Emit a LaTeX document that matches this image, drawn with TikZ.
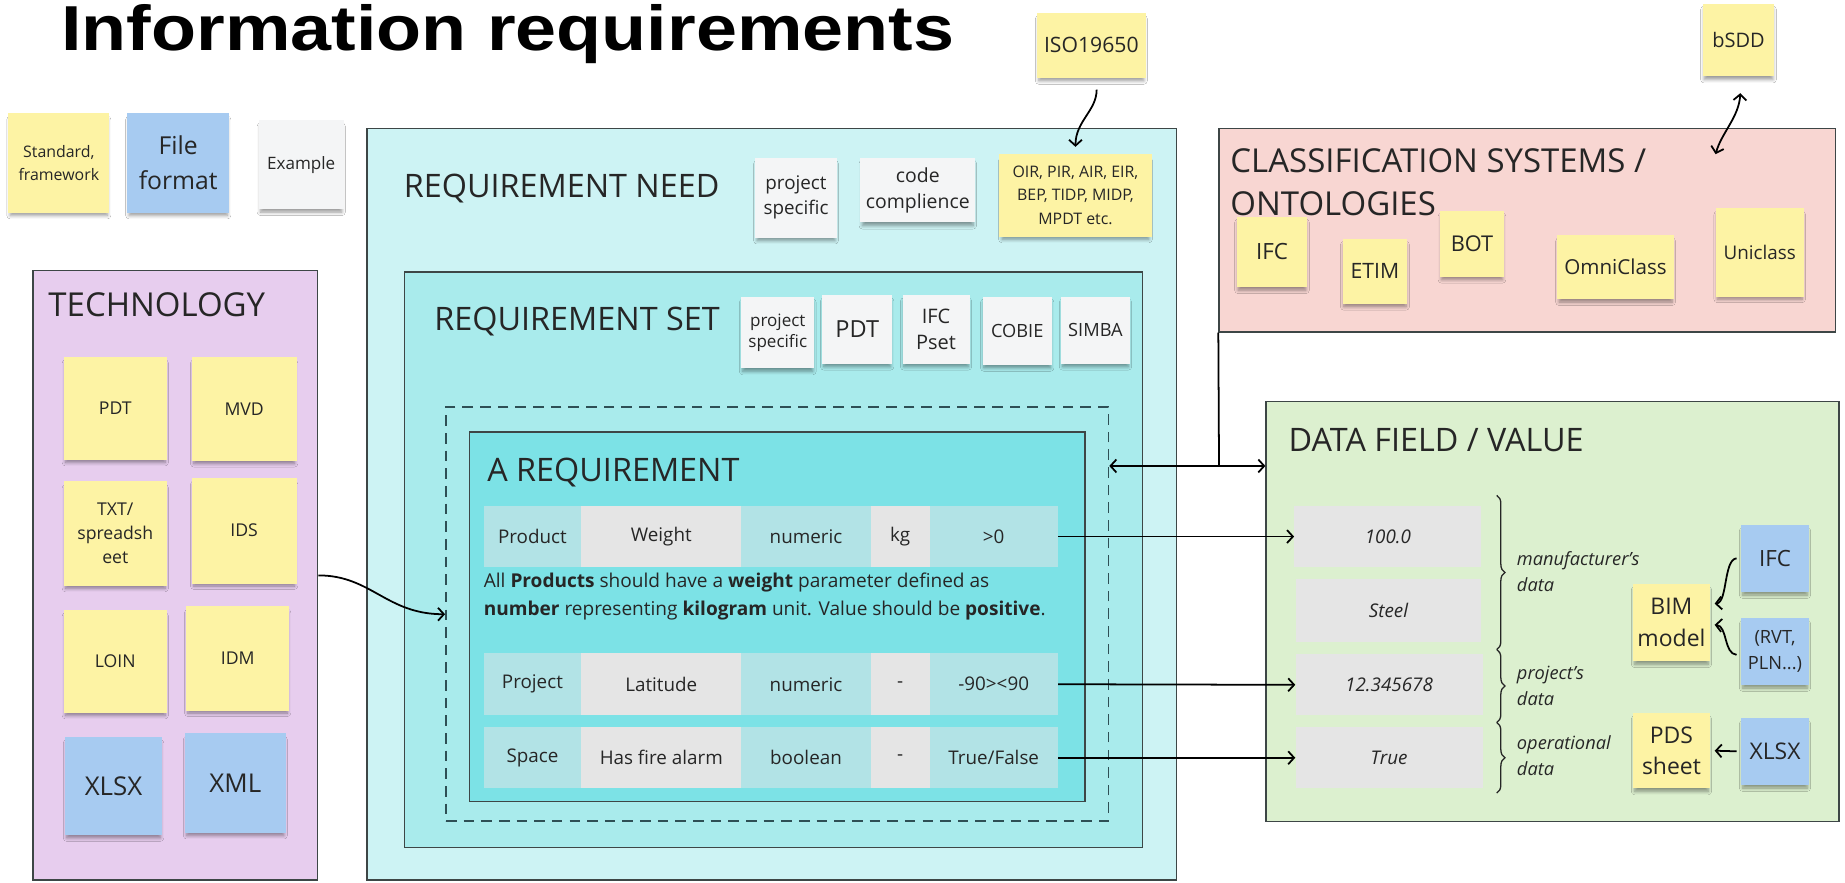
\documentclass[tikz,border=0pt]{standalone}
\usepackage{fontspec}
\setmainfont{Open Sans}
\newfontfamily\headfont{Liberation Sans}
\usetikzlibrary{arrows.meta,decorations.pathreplacing,shadows.blur}

\definecolor{cInk}{HTML}{262626}
\definecolor{cEdge}{HTML}{3D4646}
\definecolor{cDash}{HTML}{2E4F55}
\definecolor{cYel}{HTML}{FDF3A4}
\definecolor{cBlue}{HTML}{A7CBF1}
\definecolor{cPaper}{HTML}{F4F5F6}
\definecolor{cTech}{HTML}{E7CDEE}
\definecolor{cNeed}{HTML}{CDF3F4}
\definecolor{cSet}{HTML}{A9EBEC}
\definecolor{cAreq}{HTML}{7CE2E6}
\definecolor{cTeal}{HTML}{B2E3E6}
\definecolor{cGrey}{HTML}{E5E5E5}
\definecolor{cClass}{HTML}{F8D6D2}
\definecolor{cData}{HTML}{DCF0CF}

\newcommand\fsz[2]{\fontsize{#1}{#2}\selectfont}
% \placenode{name}{x1}{y1}{x2}{y2}{style}{text}: a box spanning two corners
\newcommand\placenode[7]{%
  \pgfmathsetmacro\pnW{#4-#2}\pgfmathsetmacro\pnH{#5-#3}%
  \pgfmathsetmacro\pnX{(#2+#4)/2}\pgfmathsetmacro\pnY{(#3+#5)/2}%
  \node[#6, minimum width=\pnW pt, minimum height=\pnH pt, anchor=center] (#1) at (\pnX,\pnY) {#7};}

\begin{document}
\begin{tikzpicture}[x=1pt,y=-1pt,
  panel/.style={draw=cEdge, line width=1.2pt, inner sep=0pt},
  heading/.style={inner sep=0pt, text=cInk, font=\fsz{27.5}{34}},
  sticky/.style={inner sep=0pt, align=center, text=cInk,
    blur shadow={shadow xshift=0pt, shadow yshift=-4pt, shadow blur radius=3pt,
      shadow blur steps=6, shadow opacity=40, shadow scale=0.96}},
  ystick/.style={sticky, fill=cYel},
  bstick/.style={sticky, fill=cBlue},
  wstick/.style={sticky, fill=cPaper},
  cell/.style={inner sep=0pt, text=cInk, font=\fsz{16}{19}},
  tcell/.style={cell, fill=cTeal},
  gcell/.style={cell, fill=cGrey},
  valbox/.style={inner sep=0pt, fill=cGrey, text=cInk, font=\itshape\fsz{16}{19}},
  bracelabel/.style={inner sep=0pt, anchor=west, align=left, text=cInk, font=\itshape\fsz{15.5}{22}},
  arrowlink/.style={draw=black, line width=1.5pt, -{Straight Barb[length=5pt,width=11pt]}},
  twolink/.style={draw=black, line width=1.5pt,
    {Straight Barb[length=5pt,width=11pt]}-{Straight Barb[length=5pt,width=11pt]}},
  bareline/.style={draw=black, line width=1.5pt},
  brc/.style={draw=cInk, line width=1.1pt, decorate, decoration={brace, amplitude=7pt}}
]
\useasboundingbox (0,0) rectangle (1568,750);
\fill[white] (0,0) rectangle (1568,750);

% ---------- heading ----------
\node[anchor=base west, inner sep=0pt, font=\headfont\bfseries\fsz{54}{58}] (title) at (52,43)
  {\scalebox{1.16}[1]{Information requirements}};

% ---------- legend ----------
\placenode{lgstd}{7}{96}{93}{181}{ystick, font=\fsz{13.5}{19}}{Standard,\\framework}
\placenode{lgfile}{108}{96}{195}{181}{bstick, font=\fsz{21}{30}}{File\\format}
\placenode{lgex}{220}{102}{292}{178}{wstick, font=\fsz{14.5}{18}}{Example}

% ---------- panels ----------
\placenode{tech}{28}{230}{270}{748}{panel, fill=cTech}{}
\placenode{need}{312}{109}{1000}{748}{panel, fill=cNeed}{}
\placenode{set}{344}{231}{971}{720}{panel, fill=cSet}{}
\placenode{dash}{379}{346}{942}{698}{draw=cDash, line width=1.5pt, dash pattern=on 9pt off 6pt, inner sep=0pt}{}
\placenode{areq}{399}{367}{922}{681}{panel, fill=cAreq}{}
\placenode{class}{1036}{109}{1560}{282}{panel, fill=cClass}{}
\placenode{data}{1076}{341}{1563}{698}{panel, fill=cData}{}

% ---------- technology ----------
\node[heading, anchor=base west, font=\fsz{28}{34}] (techT) at (41,269) {TECHNOLOGY};
\placenode{tPDT}{54}{303}{142}{391}{ystick, font=\fsz{15}{20}}{PDT}
\placenode{tMVD}{163}{303}{252}{392}{ystick, font=\fsz{15}{20}}{MVD}
\placenode{tTXT}{54}{409}{142}{498}{ystick, font=\fsz{15}{20.5}}{TXT/\\spreadsh\\eet}
\placenode{tIDS}{163}{406}{252}{496}{ystick, font=\fsz{15}{20}}{IDS}
\placenode{tLOIN}{54}{518}{142}{606}{ystick, font=\fsz{15}{20}}{LOIN}
\placenode{tIDM}{158}{515}{246}{604}{ystick, font=\fsz{15}{20}}{IDM}
\placenode{tXLSX}{55}{626}{138}{710}{bstick, font=\fsz{22}{26}}{XLSX}
\placenode{tXML}{157}{623}{243}{708}{bstick, font=\fsz{22}{26}}{XML}

% ---------- requirement need ----------
\node[heading, anchor=base west] (needT) at (343,167.5) {REQUIREMENT NEED};
\placenode{nPS}{642}{134}{711}{202}{wstick, font=\fsz{16}{21}}{project\\specific}
\placenode{nCode}{731}{134}{829}{189}{wstick, font=\fsz{16.5}{22}}{code\\complience}
\placenode{nOIR}{849}{131}{979}{201}{ystick, font=\fsz{13.5}{20}}{OIR, PIR, AIR, EIR,\\BEP, TIDP, MIDP,\\MPDT etc.}
\placenode{iso}{881}{11}{974}{66}{ystick, font=\fsz{18}{22}}{ISO19650}

% ---------- requirement set ----------
\node[heading, anchor=base west] (setT) at (369,281) {REQUIREMENT SET};
\placenode{sPS}{630}{252}{692}{313}{wstick, font=\fsz{14.5}{18}}{project\\specific}
\placenode{sPDT}{699}{251}{758}{309}{wstick, font=\fsz{20}{24}}{PDT}
\placenode{sIFC}{767}{251}{824}{309}{wstick, font=\fsz{17}{22}}{IFC\\Pset}
\placenode{sCOBIE}{835}{252}{894}{310}{wstick, font=\fsz{15.5}{20}}{COBIE}
\placenode{sSIMBA}{902}{252}{960}{309}{wstick, font=\fsz{15.5}{20}}{SIMBA}

% ---------- a requirement ----------
\node[heading, anchor=base west] (areqT) at (414,409.5) {A REQUIREMENT};
\placenode{r1a}{411}{430}{494}{482}{tcell}{Product}
\placenode{r1b}{494}{430}{630}{482}{gcell}{Weight}
\placenode{r1c}{630}{430}{740}{482}{tcell}{numeric}
\placenode{r1d}{740}{430}{790}{482}{gcell}{kg}
\placenode{r1e}{790}{430}{899}{482}{tcell}{>0}
\node[anchor=north west, inner sep=0pt, align=left, text=cInk, font=\fsz{16.2}{23.5}] (desc) at (411,487)
  {All \textbf{Products} should have a \textbf{weight} parameter defined as\\
   \textbf{number} representing \textbf{kilogram} unit. Value should be \textbf{positive}.};
\placenode{r2a}{411}{555}{494}{608}{tcell}{Project}
\placenode{r2b}{494}{555}{630}{608}{gcell}{Latitude}
\placenode{r2c}{630}{555}{740}{608}{tcell}{numeric}
\placenode{r2d}{740}{555}{790}{608}{gcell}{-}
\placenode{r2e}{790}{555}{899}{608}{tcell}{-90><90}
\placenode{r3a}{411}{618}{494}{670}{tcell}{Space}
\placenode{r3b}{494}{618}{630}{670}{gcell}{Has fire alarm}
\placenode{r3c}{630}{618}{740}{670}{tcell}{boolean}
\placenode{r3d}{740}{618}{790}{670}{gcell}{-}
\placenode{r3e}{790}{618}{899}{670}{tcell}{True/False}

% ---------- classification systems ----------
\placenode{cIFC}{1051}{184}{1111}{244}{ystick, font=\fsz{19}{22}}{IFC}
\placenode{cETIM}{1141}{203}{1196}{258}{ystick, font=\fsz{18}{22}}{ETIM}
\placenode{cBOT}{1224}{179}{1278}{235}{ystick, font=\fsz{18.5}{22}}{BOT}
\placenode{cOmni}{1323}{200}{1423}{254}{ystick, font=\fsz{17.5}{22}}{OmniClass}
\placenode{cUni}{1458}{177}{1533}{252}{ystick, font=\fsz{16}{20}}{Uniclass}
\node[heading, anchor=north west, align=left, font=\fsz{28}{37}] (classT) at (1045.5,126)
  {CLASSIFICATION SYSTEMS /\\ONTOLOGIES};
\placenode{bsdd}{1447}{3}{1508}{65}{ystick, font=\fsz{17}{20}}{bSDD}

% ---------- data field / value ----------
\node[heading, anchor=base west] (dataT) at (1095,384) {DATA FIELD / VALUE};
\placenode{v1}{1100}{430}{1259}{482}{valbox}{100.0}
\placenode{v2}{1101}{492}{1259}{546}{valbox}{Steel}
\placenode{v3}{1101}{556}{1260}{608}{valbox}{12.345678}
\placenode{v4}{1101}{618}{1260}{670}{valbox}{True}
\coordinate (b0) at (1272,421);
\coordinate (b1) at (1272,552);
\coordinate (b2) at (1272,614);
\coordinate (b3) at (1272,674);
\draw[brc] (b0) -- (b1);
\draw[brc] (b1) -- (b2);
\draw[brc] (b2) -- (b3);
\node[bracelabel] (lab1) at (1289,486) {manufacturer's\\data};
\node[bracelabel] (lab2) at (1289,583) {project's\\data};
\node[bracelabel] (lab3) at (1289,642.5) {operational\\data};
\placenode{bim}{1388}{496}{1453}{562}{ystick, font=\fsz{19.5}{27}}{BIM\\model}
\placenode{ifc2}{1480}{446}{1537}{503}{bstick, font=\fsz{19}{22}}{IFC}
\placenode{rvt}{1480}{525}{1537}{582}{bstick, font=\fsz{15.5}{22}}{(RVT,\\PLN...)}
\placenode{pds}{1388}{606}{1453}{670}{ystick, font=\fsz{19.5}{27}}{PDS\\sheet}
\placenode{xlsx2}{1480}{610}{1537}{667}{bstick, font=\fsz{19.5}{22}}{XLSX}

% ---------- connectors ----------
\draw[arrowlink] ([xshift=4.5pt,yshift=-10pt]iso.south) .. controls +(0,18) and +(0,-22) .. ([yshift=6pt]nOIR.north);
\coordinate (bend) at (1458,131);
\draw[twolink] ([xshift=1.5pt,yshift=-14pt]bsdd.south) .. controls +(-1,20) and +(5,-18) .. (bend);
\draw[arrowlink] (tech.east) .. controls +(45,0) and +(-50,0) .. (dash.west);
\draw[arrowlink] (r1e.east) -- (v1.west);
\draw[arrowlink] (r2e.east) -- (v3.west);
\draw[arrowlink] (r3e.east) -- (v4.west);
\coordinate (j) at (1036,396);
\draw[twolink] (dash.east |- j) -- (data.west |- j);
\draw[bareline] (j) -- (class.south west);
\draw[arrowlink] ([xshift=-4pt]ifc2.west) .. controls +(-11,1) and +(11,-1) .. ([xshift=4pt,yshift=16pt]bim.east);
\draw[arrowlink] ([xshift=-4pt,yshift=-3pt]rvt.west) .. controls +(-11,-1) and +(11,1) .. ([xshift=4pt,yshift=-2pt]bim.east);
\draw[arrowlink] ([xshift=-4pt]xlsx2.west) -- ([xshift=4pt]pds.east);
\end{tikzpicture}
\end{document}
